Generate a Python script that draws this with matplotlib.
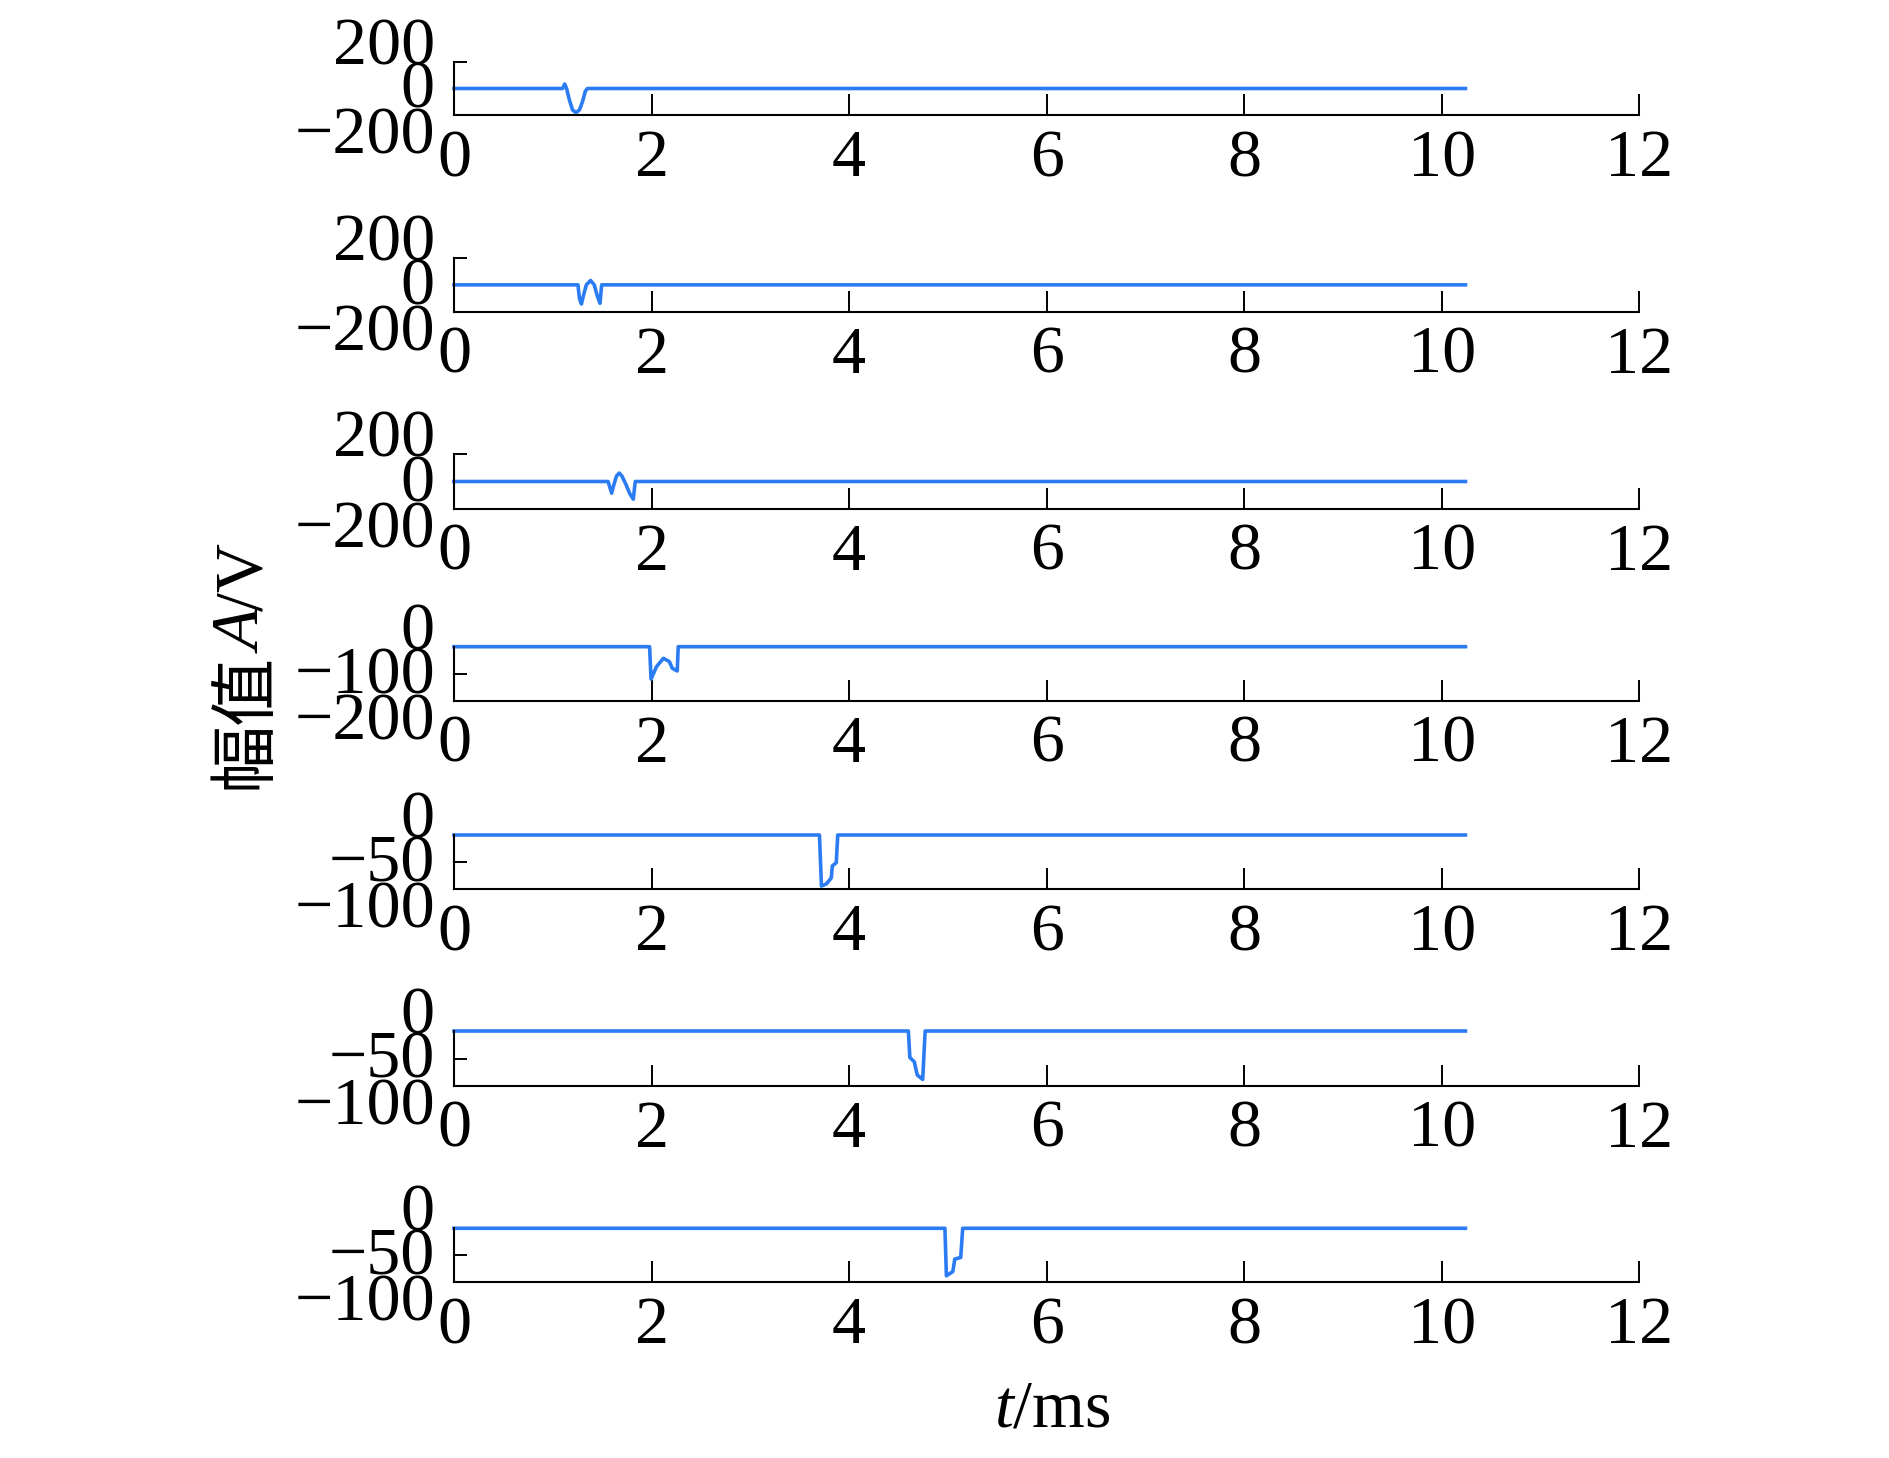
import matplotlib
matplotlib.use('Agg')
from matplotlib import pyplot as plt
from matplotlib import transforms as mtrans

plt.rcParams['font.family'] = ['Liberation Serif', 'Noto Sans CJK SC']
plt.rcParams['mathtext.fontset'] = 'custom'
plt.rcParams['mathtext.rm'] = 'Liberation Serif'
plt.rcParams['mathtext.it'] = 'Liberation Serif:italic'

line_color = '#2b7cf2'

# seven channels, time in ms and amplitude in V (breakpoints)
t1 = [0, 1.10, 1.12, 1.14, 1.17, 1.20, 1.235, 1.27, 1.30, 1.33, 1.35, 10.24]
v1 = [0, 0, 33, 0, -90, -160, -180, -160, -100, -20, 0, 0]

t2 = [0, 1.255, 1.27, 1.29, 1.31, 1.34, 1.383, 1.42, 1.45, 1.478, 1.495, 10.24]
v2 = [0, 0, -100, -141, -80, 0, 32, 0, -80, -136, 0, 0]

t3 = [0, 1.56, 1.596, 1.62, 1.645, 1.673, 1.70, 1.74, 1.78, 1.815, 1.835, 10.24]
v3 = [0, 0, -86, -20, 40, 62, 40, -20, -90, -130, 0, 0]

t4 = [0, 1.98, 1.995, 2.05, 2.12, 2.18, 2.21, 2.26, 2.27, 10.24]
v4 = [0, 0, -120, -74, -43, -55, -80, -90, 0, 0]

t5 = [0, 3.70, 3.72, 3.77, 3.82, 3.83, 3.87, 3.885, 10.24]
v5 = [0, 0, -94, -90, -79, -57, -51, 0, 0]

t6 = [0, 4.60, 4.615, 4.66, 4.69, 4.745, 4.77, 10.24]
v6 = [0, 0, -48, -56, -80, -88, 0, 0]

t7 = [0, 4.97, 4.985, 5.05, 5.07, 5.13, 5.15, 10.24]
v7 = [0, 0, -88, -80, -57, -54, 0, 0]

times = [t1, t2, t3, t4, t5, t6, t7]
values = [v1, v2, v3, v4, v5, v6, v7]
yticks = [[-200, 0, 200]] * 3 + [[-200, -100, 0]] + [[-100, -50, 0]] * 3
xticks = [0, 2, 4, 6, 8, 10, 12]

W, H = 1890, 1458
fig = plt.figure(figsize=(W / 100, H / 100), dpi=100)

# pixel tops/bottoms of each panel
tops = [61.7, 257.7, 454.3, 646.7, 835, 1031, 1228.3]
bottoms = [115.3, 312, 508.7, 700.7, 889.3, 1086, 1282.3]
left_px, right_px = 454, 1639.3

fs = 49
# the labels in the original spread out past the ticks
label_shift = [-21, -4, 15]  # px, top / middle / bottom label

for i in range(7):
    ax = fig.add_axes([left_px / W, 1 - bottoms[i] / H,
                       (right_px - left_px) / W, (bottoms[i] - tops[i]) / H])
    ax.plot(times[i], values[i], color=line_color, lw=2.6, clip_on=False)
    ax.set_xlim(0, 12)
    ax.set_ylim(yticks[i][0], yticks[i][-1])
    for s in ['top', 'right']:
        ax.spines[s].set_visible(False)
    for s in ['left', 'bottom']:
        ax.spines[s].set_linewidth(1.5)
    ax.set_xticks(xticks)
    ax.set_xticklabels([str(x) for x in xticks], fontsize=fs)
    ax.tick_params(axis='x', direction='in', length=15, width=1.4, pad=10)
    ax.set_yticks(yticks[i])
    ax.set_yticklabels([])
    ax.tick_params(axis='y', direction='in', length=9.5, width=1.4)
    trans = mtrans.blended_transform_factory(ax.transAxes, ax.transData)
    for k, yv in enumerate(yticks[i][::-1]):
        off = mtrans.ScaledTranslation(-19 / 100, -label_shift[k] / 100, fig.dpi_scale_trans)
        txt = str(yv).replace('-', '\u2212')
        ax.text(0, yv, txt, transform=trans + off, fontsize=fs,
                ha='right', va='center_baseline')

fig.text(1052 / W, 1 - 1410 / H, r'$\mathit{t}$/ms', fontsize=fs,
         ha='center', va='center')

# y label: Chinese part + italic A + /V, stacked bottom to top
pieces = [('幅值', 'Noto Sans CJK SC', 'normal'),
          ('A', 'Liberation Serif', 'italic'),
          ('/V', 'Liberation Serif', 'normal')]
renderer = fig.canvas.get_renderer()
ylab_x, ylab_cy = 245, H - 666
texts = []
heights = []
for s, fam, sty in pieces:
    t = fig.text(0, 0, s, fontsize=fs, family=fam, style=sty, rotation=90,
                 ha='center', va='bottom', transform=None)
    texts.append(t)
    heights.append(t.get_window_extent(renderer).height)
y = ylab_cy - sum(heights) / 2
for t, h in zip(texts, heights):
    t.set_position((ylab_x, y))
    y += h

fig.savefig('out.png', dpi=100)
